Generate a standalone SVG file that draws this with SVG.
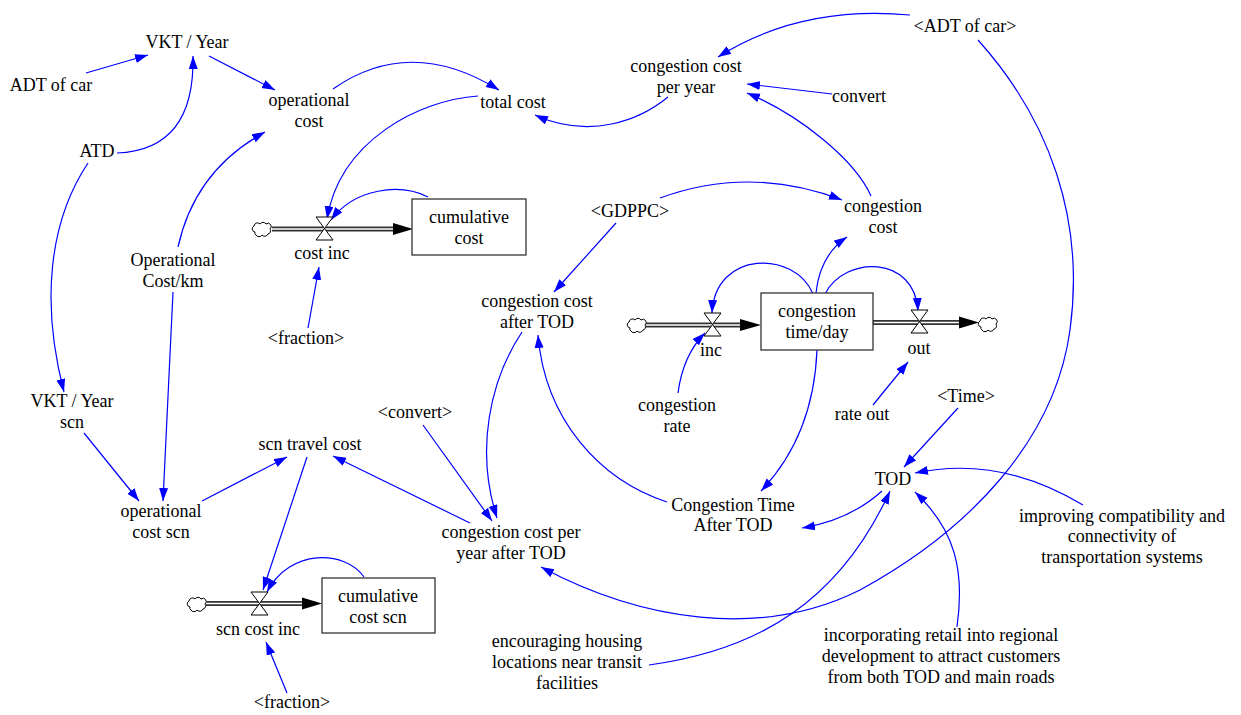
<svg xmlns="http://www.w3.org/2000/svg" width="1241" height="715" viewBox="0 0 1241 715">
<defs>
<style>
.c{fill:none;stroke:#0000FF;stroke-width:1.2;marker-end:url(#ah)}
.stock{fill:#fff;stroke:#333;stroke-width:1.3}
.pipeo{stroke:#333;stroke-width:5;fill:none}
.pipei{stroke:#fff;stroke-width:1.6;fill:none}
.valve{fill:#fff;stroke:#000;stroke-width:1}
.cloud{fill:#fff;stroke:#000;stroke-width:1}
.fa{fill:#000}
</style>
<marker id="ah" markerUnits="userSpaceOnUse" markerWidth="14" markerHeight="10" refX="13" refY="4.5" orient="auto">
<path d="M0,0 L13,4.5 L0,9 z" fill="#0000FF"/>
</marker>
<path id="cl" d="M-7,3 a3.2,3.2 0 0 1 -1,-6 a3.5,3.5 0 0 1 6,-2 a3.5,3.5 0 0 1 6,0 a3.2,3.2 0 0 1 4,5 a3.2,3.2 0 0 1 -2,5 a3.5,3.5 0 0 1 -6,1 a3.5,3.5 0 0 1 -6,0 a2.5,2.5 0 0 1 -1,-3 z"/>
</defs>
<rect width="1241" height="715" fill="#fff"/>

<g id="connectors">
<path class="c" d="M86,73 L148,55"/>
<path class="c" d="M117,153 Q195,150 193,56"/>
<path class="c" d="M209,56 L275,90"/>
<path class="c" d="M333,89 Q410,35 499,90"/>
<path class="c" d="M478,96 C420,100 340,140 327,219"/>
<path class="c" d="M428,197 C400,183 355,188 331,220"/>
<path class="c" d="M308,328 L319,267"/>
<path class="c" d="M178,247 Q195,170 265,132"/>
<path class="c" d="M88,163 C50,220 40,300 64,392"/>
<path class="c" d="M173,292 L163,501"/>
<path class="c" d="M84,433 L139,501"/>
<path class="c" d="M202,501 L287,457"/>
<path class="c" d="M307,457 L263,590"/>
<path class="c" d="M364,577 C345,550 290,548 267,592"/>
<path class="c" d="M287,693 L266,642"/>
<path class="c" d="M470,523 L333,456"/>
<path class="c" d="M423,425 L492,521"/>
<path class="c" d="M522,332 C490,380 475,450 497,518"/>
<path class="c" d="M667,502 C600,480 545,420 538,335"/>
<path class="c" d="M817,350 C815,400 800,450 761,491"/>
<path class="c" d="M882,491 Q850,520 802,528"/>
<path class="c" d="M958,408 L904,467"/>
<path class="c" d="M1083,505 Q1000,455 915,473"/>
<path class="c" d="M957,627 C965,570 955,530 915,492"/>
<path class="c" d="M649,665 C760,650 840,600 890,491"/>
<path class="c" d="M978,40 C1050,120 1085,220 1070,330 C1055,440 970,530 860,590 C760,640 640,620 541,567"/>
<path class="c" d="M910,15 Q800,5 718,57"/>
<path class="c" d="M832,94 L747,84"/>
<path class="c" d="M871,196 C855,160 800,115 747,93"/>
<path class="c" d="M668,97 C640,120 590,140 535,115"/>
<path class="c" d="M660,198 Q750,165 842,200"/>
<path class="c" d="M616,223 L554,292"/>
<path class="c" d="M816,293 Q820,255 847,237"/>
<path class="c" d="M813,294 C795,250 715,250 712,313"/>
<path class="c" d="M825,294 C845,255 915,255 918,311"/>
<path class="c" d="M678,393 Q683,355 705,333"/>
<path class="c" d="M873,405 L908,362"/>
</g>

<g font-family="Liberation Serif" font-size="18" text-anchor="middle" fill="#000">
<g id="flow-cost-inc">
<use href="#cl" class="cloud" x="262" y="229"/>
<path class="pipeo" d="M272,229 L396,229"/>
<path class="pipei" d="M272,229 L397,229"/>
<polygon class="fa" points="393,223 413,229 393,235"/>
<path class="valve" d="M316,217 L333,217 L316,240 L333,240 Z"/>
<text x="322" y="259">cost inc</text>
</g>
<g id="stock-cumulative-cost">
<rect class="stock" x="412" y="199" width="114" height="56"/>
<text x="469" y="223">cumulative</text>
<text x="469" y="244">cost</text>
</g>

<g id="flow-inc">
<use href="#cl" class="cloud" x="637" y="325"/>
<path class="pipeo" d="M646,325 L743,325"/>
<path class="pipei" d="M646,325 L744,325"/>
<polygon class="fa" points="740,319 761,325 740,331"/>
<path class="valve" d="M704,313 L721,313 L704,336 L721,336 Z"/>
<text x="711" y="356">inc</text>
</g>
<g id="stock-congestion-time-day">
<rect class="stock" x="761" y="293" width="112" height="57"/>
<text x="817" y="317">congestion</text>
<text x="817" y="338">time/day</text>
</g>
<g id="flow-out">
<path class="pipeo" d="M873,322.5 L962,322.5"/>
<path class="pipei" d="M874,322.5 L962,322.5"/>
<polygon class="fa" points="959,316.5 979,322.5 959,328.5"/>
<use href="#cl" class="cloud" x="988" y="324"/>
<path class="valve" d="M911,310 L928,310 L911,333 L928,333 Z"/>
<text x="919" y="354">out</text>
</g>

<g id="flow-scn-cost-inc">
<use href="#cl" class="cloud" x="197" y="604"/>
<path class="pipeo" d="M206,603.5 L305,603.5"/>
<path class="pipei" d="M206,603.5 L306,603.5"/>
<polygon class="fa" points="302,597.5 322,603.5 302,609.5"/>
<path class="valve" d="M251,592 L268,592 L251,615 L268,615 Z"/>
<text x="258" y="635">scn cost inc</text>
</g>
<g id="stock-cumulative-cost-scn">
<rect class="stock" x="322" y="578" width="113" height="55"/>
<text x="378" y="602">cumulative</text>
<text x="378" y="623">cost scn</text>
</g>

<g id="vkt-year"><text x="187" y="48">VKT / Year</text></g>
<g id="adt-of-car"><text x="51" y="91">ADT of car</text></g>
<g id="operational-cost"><text x="309" y="106">operational</text><text x="309" y="127">cost</text></g>
<g id="atd"><text x="97" y="157">ATD</text></g>
<g id="operational-cost-km"><text x="173" y="266">Operational</text><text x="173" y="287">Cost/km</text></g>
<g id="total-cost"><text x="513" y="108">total cost</text></g>
<g id="congestion-cost-per-year"><text x="686" y="72">congestion cost</text><text x="686" y="93">per year</text></g>
<g id="adt-of-car-shadow"><text x="965" y="32">&lt;ADT of car&gt;</text></g>
<g id="convert"><text x="859" y="102">convert</text></g>
<g id="fraction-1"><text x="306" y="344">&lt;fraction&gt;</text></g>
<g id="gdppc"><text x="630" y="217">&lt;GDPPC&gt;</text></g>
<g id="congestion-cost"><text x="883" y="212">congestion</text><text x="883" y="233">cost</text></g>
<g id="congestion-cost-after-tod"><text x="537" y="307">congestion cost</text><text x="537" y="328">after TOD</text></g>
<g id="congestion-rate"><text x="677" y="411">congestion</text><text x="677" y="432">rate</text></g>
<g id="rate-out"><text x="862" y="420">rate out</text></g>
<g id="time"><text x="966" y="402">&lt;Time&gt;</text></g>
<g id="vkt-year-scn"><text x="72" y="407">VKT / Year</text><text x="72" y="428">scn</text></g>
<g id="convert-shadow"><text x="415" y="418">&lt;convert&gt;</text></g>
<g id="scn-travel-cost"><text x="310" y="450">scn travel cost</text></g>
<g id="operational-cost-scn"><text x="161" y="517">operational</text><text x="161" y="538">cost scn</text></g>
<g id="congestion-cost-per-year-after-tod"><text x="511" y="538">congestion cost per</text><text x="511" y="559">year after TOD</text></g>
<g id="congestion-time-after-tod"><text x="733" y="511">Congestion Time</text><text x="733" y="531">After TOD</text></g>
<g id="tod"><text x="893" y="485">TOD</text></g>
<g id="improving"><text x="1122" y="522">improving compatibility and</text><text x="1122" y="542">connectivity of</text><text x="1122" y="563">transportation systems</text></g>
<g id="incorporating"><text x="941" y="641">incorporating retail into regional</text><text x="941" y="662">development to attract customers</text><text x="941" y="683">from both TOD and main roads</text></g>
<g id="encouraging"><text x="567" y="647">encouraging housing</text><text x="567" y="668">locations near transit</text><text x="567" y="689">facilities</text></g>
<g id="fraction-2"><text x="292" y="708">&lt;fraction&gt;</text></g>
</g>
</svg>
